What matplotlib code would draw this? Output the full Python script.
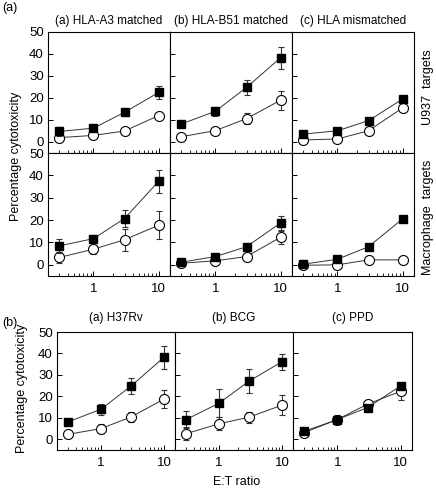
import matplotlib
matplotlib.use("Agg")
import matplotlib.pyplot as plt
import numpy as np

plt.rcParams["font.family"] = ["Liberation Sans", "DejaVu Sans"]
plt.rcParams["font.size"] = 8

# E:T ratios
ratio = [0.3, 1, 3, 10]

# part (a): columns of HLA matching, rows of target cells
a_titles = ["(a) HLA-A3 matched", "(b) HLA-B51 matched", "(c) HLA mismatched"]
a_rows = ["U937  targets", "Macrophage  targets"]

# U937 targets
u937_fill = [[4.8, 6.3, 13.5, 22.5], [8.2, 14.0, 24.8, 38.3], [3.6, 5.1, 9.7, 19.5]]
u937_fill_err = [[2.0, 1.0, 1.5, 3.0], [1.0, 2.0, 3.6, 5.0], [0.8, 0.8, 0.8, 1.0]]
u937_open = [[2.0, 3.0, 5.0, 12.0], [2.4, 5.2, 10.6, 19.0], [0.9, 1.4, 5.1, 15.5]]
u937_open_err = [[0.8, 0.8, 0.8, 1.2], [1.0, 1.5, 2.5, 4.4], [0.8, 0.8, 0.8, 1.2]]

# macrophage targets
mac_fill = [[8.5, 11.7, 20.7, 37.3], [1.2, 3.7, 8.1, 18.7], [0.3, 2.5, 8.1, 20.5]]
mac_fill_err = [[3.0, 1.5, 3.8, 5.0], [0.8, 0.8, 1.0, 3.0], [0.6, 0.8, 0.8, 1.5]]
mac_open = [[3.3, 7.0, 11.2, 17.7], [0.7, 1.8, 3.7, 12.3], [-0.2, 0.0, 2.2, 2.2]]
mac_open_err = [[2.5, 2.0, 5.0, 6.3], [0.6, 0.8, 1.5, 3.0], [0.6, 0.6, 1.5, 1.5]]

# part (b): antigens
b_titles = ["(a) H37Rv", "(b) BCG", "(c) PPD"]
b_fill = [[8.1, 14.0, 24.8, 38.2], [9.2, 16.8, 27.1, 36.1], [3.7, 9.2, 14.8, 24.9]]
b_fill_err = [[1.0, 2.5, 3.6, 5.3], [4.0, 6.5, 5.5, 3.6], [1.0, 1.5, 1.0, 1.0]]
b_open = [[2.3, 5.0, 10.4, 18.7], [2.6, 7.2, 10.3, 15.9], [3.1, 9.2, 16.4, 22.4]]
b_open_err = [[1.0, 2.0, 2.5, 4.3], [3.0, 3.0, 2.5, 4.7], [1.0, 2.0, 1.5, 4.0]]

W, H = 436, 490


def add_ax(fig, x0, y0, x1, y1):
    return fig.add_axes([x0 / W, 1 - y1 / H, (x1 - x0) / W, (y1 - y0) / H])


def draw(ax, fill, fill_err, opn, opn_err, show_y, show_x):
    ax.errorbar(ratio, opn, yerr=opn_err, color="#333333", lw=0.7, elinewidth=0.8,
                capsize=2.5, capthick=0.8, marker="o", ms=7.2, mfc="white",
                mec="black", mew=0.8, zorder=2)
    ax.errorbar(ratio, fill, yerr=fill_err, color="#333333", lw=0.7, elinewidth=0.8,
                capsize=2.5, capthick=0.8, marker="s", ms=6.3, mfc="black",
                mec="black", zorder=3)
    ax.set_xscale("log")
    ax.set_xlim(0.2, 15)
    ax.set_ylim(-5, 50)
    ax.set_yticks([0, 10, 20, 30, 40, 50])
    ax.set_xticks([1, 10])
    ax.set_xticklabels(["1", "10"])
    ax.tick_params(which="major", direction="in", length=3.5, width=0.7, labelsize=9.5)
    ax.tick_params(which="minor", direction="in", length=2, width=0.6)
    ax.tick_params(axis="y", which="both", right=False, pad=3)
    ax.tick_params(axis="x", which="both", top=False, pad=5)
    if not show_y:
        ax.set_yticklabels([])
    if not show_x:
        ax.set_xticklabels([])
    for s in ax.spines.values():
        s.set_linewidth(0.8)


fig = plt.figure(figsize=(W / 100, H / 100), dpi=100)

# part (a)
a_x = [48, 170, 292, 414]
a_y = [(32, 153), (153, 276)]
for r, (y0, y1) in enumerate(a_y):
    for c in range(3):
        ax = add_ax(fig, a_x[c], y0, a_x[c + 1], y1)
        if r == 0:
            draw(ax, u937_fill[c], u937_fill_err[c], u937_open[c], u937_open_err[c],
                 c == 0, False)
            ax.set_title(a_titles[c], fontsize=8.5, pad=6)
        else:
            draw(ax, mac_fill[c], mac_fill_err[c], mac_open[c], mac_open_err[c],
                 c == 0, True)

# part (b)
b_x = [57, 175, 293, 412]
for c in range(3):
    ax = add_ax(fig, b_x[c], 332, b_x[c + 1], 450)
    draw(ax, b_fill[c], b_fill_err[c], b_open[c], b_open_err[c], c == 0, True)
    ax.set_title(b_titles[c], fontsize=8.5, pad=8)

fig.text(10 / W, 1 - 8 / H, "(a)", fontsize=9, ha="center", va="center")
fig.text(10 / W, 1 - 323 / H, "(b)", fontsize=9, ha="center", va="center")
fig.text(16 / W, 1 - 156 / H, "Percentage cytotoxicity", fontsize=9,
         rotation=90, ha="center", va="center")
fig.text(22 / W, 1 - 388 / H, "Percentage cytotoxicity", fontsize=9,
         rotation=90, ha="center", va="center")
fig.text(428 / W, 1 - 87 / H, a_rows[0], fontsize=9, rotation=90,
         ha="center", va="center")
fig.text(428 / W, 1 - 217 / H, a_rows[1], fontsize=9, rotation=90,
         ha="center", va="center")
fig.text(237 / W, 1 - 482 / H, "E:T ratio", fontsize=9, ha="center", va="center")

fig.savefig("out.png", dpi=100)
